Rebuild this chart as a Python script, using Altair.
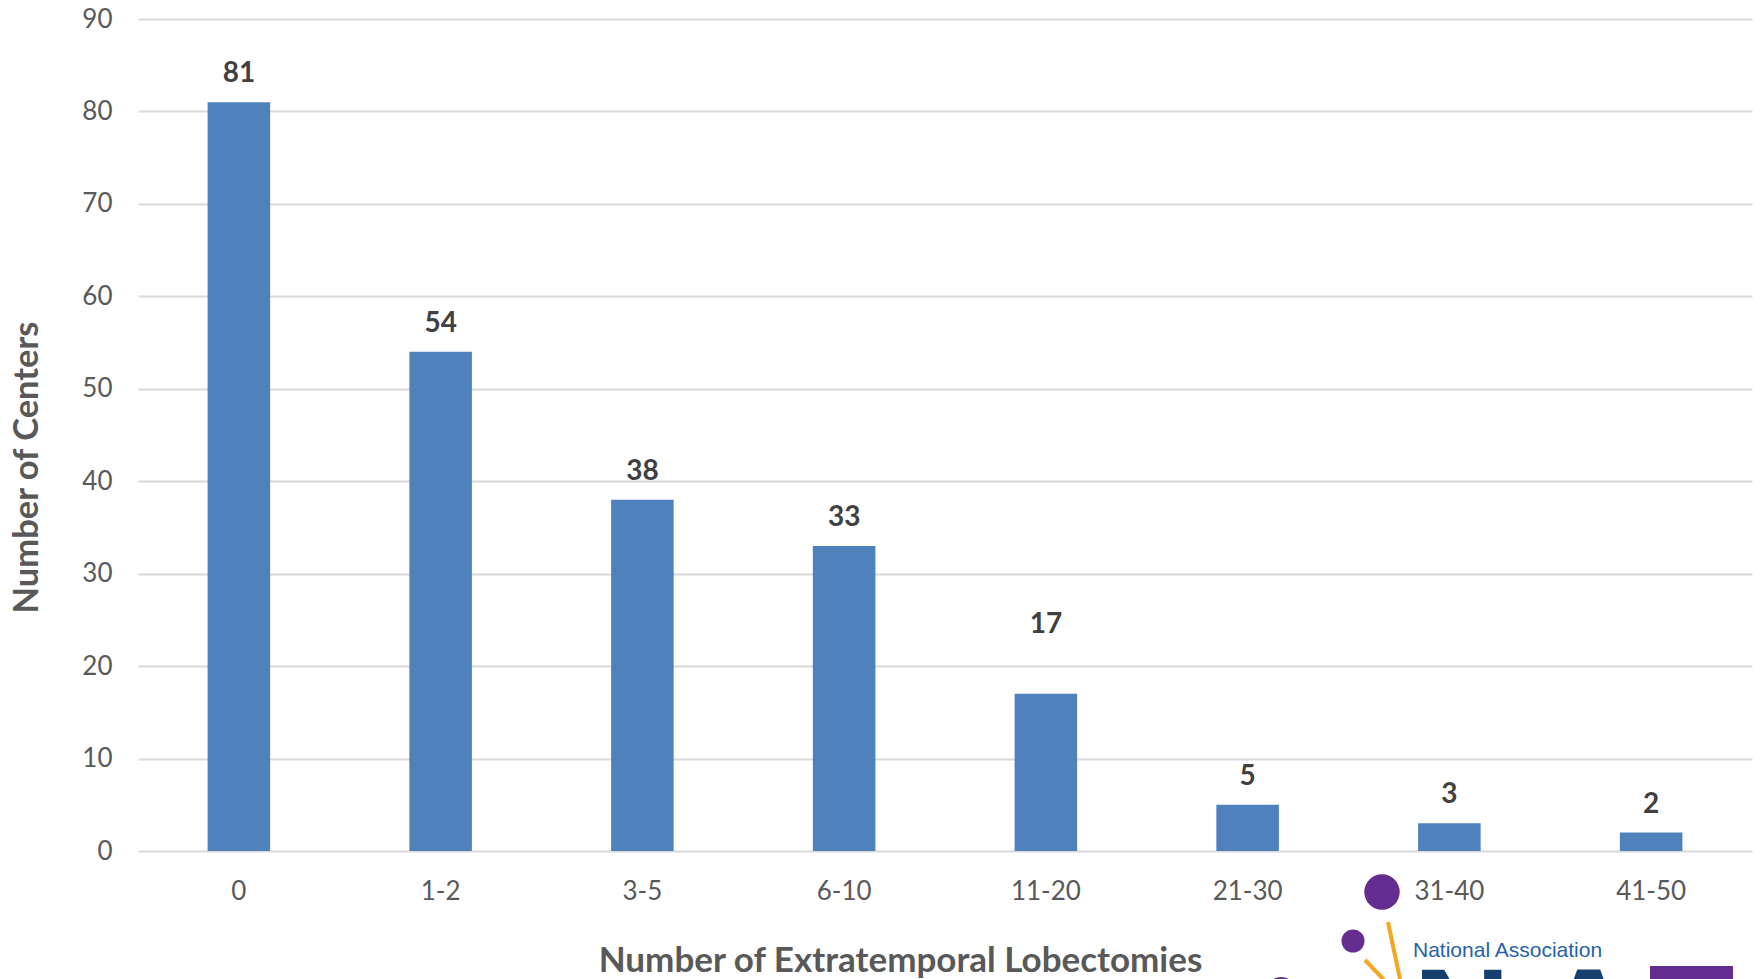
import altair as alt
import pandas as pd

# Centers grouped by how many extratemporal lobectomies they performed
categories = ["0", "1-2", "3-5", "6-10", "11-20", "21-30", "31-40", "41-50"]
centers = [81, 54, 38, 33, 17, 5, 3, 2]

df = pd.DataFrame({"bucket": categories, "count": centers})

FONT = "Lato"
AXIS_GREY = "#595959"
LABEL_DARK = "#404040"
BAR_BLUE = "#4F81BD"
PURPLE = "#662D91"
ORANGE = "#F5A623"
NAVY = "#173F6E"

x_enc = alt.X(
    "bucket:N",
    sort=categories,
    scale=alt.Scale(paddingInner=0.69, paddingOuter=0.345),
    axis=alt.Axis(
        title="Number of Extratemporal Lobectomies",
        labelAngle=0,
        labelFontSize=26,
        labelColor=AXIS_GREY,
        labelFont=FONT,
        labelPadding=40,
        labelBaseline="middle",
        domain=False,
        ticks=False,
        tickSize=0,
        titleFontSize=35,
        titleFont=FONT,
        titleFontWeight="bold",
        titleColor=AXIS_GREY,
        titleX=762,
        titleY=109,
        titleBaseline="middle",
        titleAlign="center",
    ),
)

y_enc = alt.Y(
    "count:Q",
    scale=alt.Scale(domain=[0, 90], nice=False),
    axis=alt.Axis(
        title="Number of Centers",
        values=list(range(0, 91, 10)),
        labelFontSize=26,
        labelColor=AXIS_GREY,
        labelFont=FONT,
        labelPadding=26,
        domain=False,
        ticks=False,
        tickSize=0,
        grid=True,
        gridColor="#D9D9D9",
        gridWidth=2,
        titleFontSize=34.5,
        titleFont=FONT,
        titleFontWeight="bold",
        titleColor=AXIS_GREY,
        titleAngle=270,
        titleX=-111,
        titleY=448,
        titleBaseline="middle",
        titleAlign="center",
    ),
)

base = alt.Chart(df)

bars = base.mark_bar(color=BAR_BLUE).encode(x=x_enc, y=y_enc)

label_style = dict(
    font=FONT, fontSize=28, fontWeight="bold", color=LABEL_DARK,
    baseline="bottom", align="center",
)

labels = base.mark_text(dy=-14, **label_style).encode(
    x=alt.X("bucket:N", sort=categories),
    y="count:Q",
    text="count:Q",
).transform_filter(alt.datum.bucket != "11-20")

# the 11-20 label sits higher above its bar
label_raised = base.mark_text(dy=-55, **label_style).encode(
    x=alt.X("bucket:N", sort=categories),
    y="count:Q",
    text="count:Q",
).transform_filter(alt.datum.bucket == "11-20")

# association logo in the lower right corner (partly cut off by the page edge)
one = pd.DataFrame({"k": [0]})
logo_src = alt.Chart(one)

dot_big = logo_src.mark_circle(color=PURPLE, opacity=1).encode(
    x=alt.value(1244), y=alt.value(873), size=alt.value(1257))
dot_small = logo_src.mark_circle(color=PURPLE, opacity=1).encode(
    x=alt.value(1215), y=alt.value(922), size=alt.value(531))
dot_low = logo_src.mark_circle(color=PURPLE, opacity=1).encode(
    x=alt.value(1143), y=alt.value(974), size=alt.value(1018))

ray_a = logo_src.mark_rule(color=ORANGE, strokeWidth=4).encode(
    x=alt.value(1250), y=alt.value(903), x2=alt.value(1263), y2=alt.value(965))
ray_b = logo_src.mark_rule(color=ORANGE, strokeWidth=4).encode(
    x=alt.value(1227), y=alt.value(941), x2=alt.value(1250), y2=alt.value(965))

assoc = logo_src.mark_text(
    text="National Association", font="Liberation Sans", fontSize=21,
    color="#2563A8", align="left", baseline="alphabetic",
).encode(x=alt.value(1275), y=alt.value(938))

letter_n = logo_src.mark_text(
    text="N", font="Liberation Sans", fontSize=135, fontWeight="bold",
    color=NAVY, align="left", baseline="alphabetic",
).encode(x=alt.value(1275), y=alt.value(1044))
letter_a = logo_src.mark_text(
    text="A", font="Liberation Sans", fontSize=135, fontWeight="bold",
    color=NAVY, align="left", baseline="alphabetic",
).encode(x=alt.value(1402), y=alt.value(1044))

block = logo_src.mark_rect(color=PURPLE).encode(
    x=alt.value(1512), x2=alt.value(1595), y=alt.value(947), y2=alt.value(975))

chart = alt.layer(
    bars, labels, label_raised,
    ray_a, ray_b, dot_big, dot_small, dot_low, assoc, letter_n, letter_a, block,
).properties(
    width=1614,
    height=832,
    padding={"left": 138, "top": 19, "right": 10, "bottom": 128},
    autosize=alt.AutoSizeParams(type="none"),
    background="white",
).configure_view(stroke=None)

chart.save("out.html", embed_options={"renderer": "svg", "actions": False})
